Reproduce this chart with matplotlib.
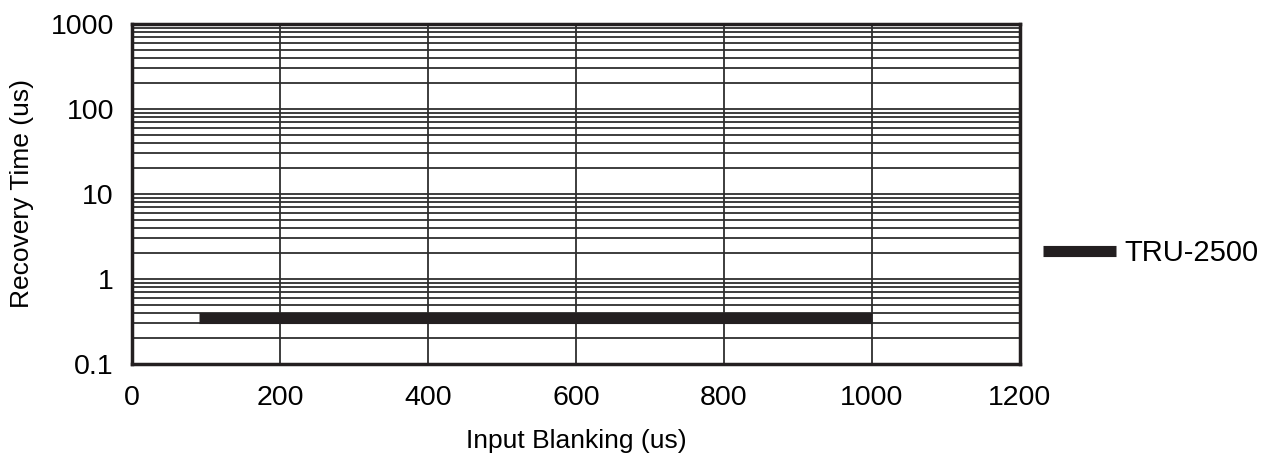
import numpy as np
import matplotlib.pyplot as plt

plt.rcParams["font.family"] = ["Liberation Sans", "DejaVu Sans"]

series_name = "TRU-2500"
blanking_us = [90, 1000]
recovery_us = [0.35, 0.35]

x_ticks = [0, 200, 400, 600, 800, 1000, 1200]
y_ticks = [0.1, 1, 10, 100, 1000]
y_tick_labels = ["0.1", "1", "10", "100", "1000"]


def main():
    fig = plt.figure(figsize=(12.77, 4.57), dpi=100)
    ax = fig.add_axes([0.1034, 0.2035, 0.6953, 0.744])

    ax.plot(blanking_us, recovery_us, color="#231f20", linewidth=8,
            solid_capstyle="butt", label=series_name, zorder=3)

    ax.set_yscale("log")
    ax.set_xlim(0, 1200)
    ax.set_ylim(0.1, 1000)
    ax.set_xticks(x_ticks)
    ax.set_yticks(y_ticks)
    ax.set_yticklabels(y_tick_labels)
    ax.minorticks_on()
    ax.xaxis.set_minor_locator(plt.NullLocator())

    ax.grid(True, which="major", axis="both", color="#2e2e2e", linewidth=1.3)
    ax.grid(True, which="minor", axis="y", color="#2e2e2e", linewidth=1.3)
    ax.tick_params(which="both", length=0, labelsize=20.5)
    ax.tick_params(axis="x", pad=15)
    ax.tick_params(axis="y", pad=13)
    for s in ax.spines.values():
        s.set_linewidth(2.5)
        s.set_color("#231f20")

    ax.set_xlabel("Input Blanking (us)", fontsize=19, labelpad=13)
    ax.set_ylabel("Recovery Time (us)", fontsize=19, labelpad=12)

    ax.legend(loc="center left", bbox_to_anchor=(1.026, 0.326), frameon=False,
              fontsize=21, handlelength=2.5, handletextpad=0.3,
              borderpad=0, borderaxespad=0)

    plt.savefig("out.png", dpi=100)
    plt.close()


if __name__ == "__main__":
    main()
